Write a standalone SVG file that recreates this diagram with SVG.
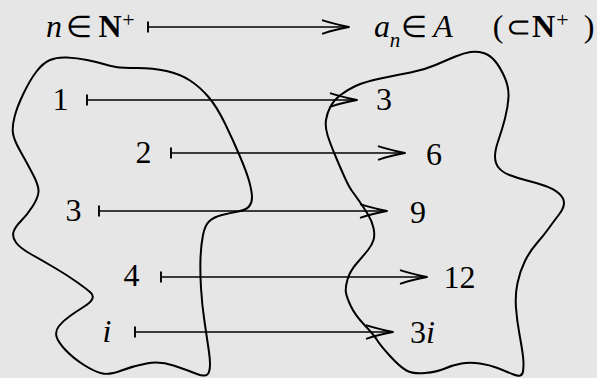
<svg xmlns="http://www.w3.org/2000/svg" width="597" height="378" viewBox="0 0 597 378">
<style>
.t{font-family:"Liberation Serif","Times New Roman",serif;font-size:32px;fill:#000;text-anchor:middle}
.i{font-style:italic}
.b{font-weight:bold}
.sup{font-size:22px}
.sub{font-size:21px}
.sym{font-size:30px}
.blob{fill:none;stroke:#000;stroke-width:2;stroke-linejoin:round}
.arr{fill:none;stroke:#000;stroke-width:1.7;marker-start:url(#tick);marker-end:url(#head)}
</style>
<defs>
<marker id="tick" markerUnits="userSpaceOnUse" markerWidth="4" markerHeight="14" refX="1" refY="7" orient="auto" overflow="visible">
<path d="M1,1.5V12.5" fill="none" stroke="#000" stroke-width="1.9"/>
</marker>
<marker id="head" markerUnits="userSpaceOnUse" markerWidth="30" markerHeight="16" refX="28" refY="8" orient="auto" overflow="visible">
<path d="M1,1.2Q16,6 28,8Q16,10 1,14.8" fill="none" stroke="#000" stroke-width="1.8" stroke-linejoin="round"/>
</marker>
</defs>
<rect width="597" height="378" fill="#e6e6e6"/>
<g id="domain-set">
<path class="blob" d="M36.5,71.5Q43,63 50,60Q57,57 67,57.5Q77,58 87,60Q97,62 103.5,64Q110,66 116,67Q122,68 137.5,68Q153,68 166.5,71Q180,74 190,80.5Q200,87 208.5,97Q217,107 225,123.5Q233,140 240,156.5Q247,173 249.5,182.5Q252,192 252,197.5Q252,203 249,206.5Q246,210 238,211.5Q230,213 222,215Q214,217 209.5,221Q205,225 203,235Q201,245 200.5,258Q200,271 201,288Q202,305 204.5,321.5Q207,338 209,352Q211,366 209,372Q207,378 197,374Q187,370 173.5,365.5Q160,361 146.5,363.5Q133,366 121.5,370.5Q110,375 102.5,373.5Q95,372 84,365Q73,358 65.5,350Q58,342 56.5,336.5Q55,331 59,326Q63,321 70,316Q77,311 83.5,307Q90,303 92,299.5Q94,296 91,293Q88,290 77.5,282.5Q67,275 55,268Q43,261 31.5,254.5Q20,248 16,242.5Q12,237 13.5,232Q15,227 21,221Q27,215 32.5,206.5Q38,198 38.5,192Q39,186 33,174.5Q27,163 20.5,151.5Q14,140 13,133.5Q12,127 14.5,117Q17,107 23.5,93.5Q30,80 36.5,71.5Z"/>
</g>
<g id="codomain-set">
<path class="blob" d="M470.5,52Q477,51 483.5,53Q490,55 495,61Q500,67 504.5,77Q509,87 508.5,97Q508,107 505,118.5Q502,130 498.5,140Q495,150 495,156.5Q495,163 498.5,167.5Q502,172 509.5,175Q517,178 527,180.5Q537,183 545.5,186Q554,189 559,193.5Q564,198 564,203Q564,208 559,214.5Q554,221 549,228Q544,235 537,243Q530,251 525,261Q520,271 517.5,283Q515,295 516,308Q517,321 519.5,334.5Q522,348 523,356.5Q524,365 523,371.5Q522,378 513.5,374.5Q505,371 497.5,368Q490,365 480,363.5Q470,362 461.5,363.5Q453,365 445,368.5Q437,372 425,373Q413,374 406.5,370.5Q400,367 390,356Q380,345 377,340Q374,335 364.5,325Q355,315 351,306.5Q347,298 346,293Q345,288 347.5,279.5Q350,271 357,263Q364,255 368,250Q372,245 373.5,240Q375,235 373.5,228Q372,221 368,214.5Q364,208 359.5,201.5Q355,195 352,191Q349,187 344.5,177Q340,167 335,155Q330,143 327.5,135Q325,127 326,120Q327,113 330.5,106.5Q334,100 340.5,95Q347,90 355.5,86Q364,82 380.5,78.5Q397,75 410.5,72.5Q424,70 435.5,65Q447,60 455.5,56.5Q464,53 470.5,52Z"/>
</g>
<g id="header-left">
<text class="t i" x="54" y="37">n</text>
<text class="t sym" x="79" y="37">∈</text>
<text class="t b" x="110" y="37">N</text>
<text class="t sup" x="128.5" y="27">+</text>
</g>
<g id="header-right">
<text class="t i" x="382" y="37">a</text>
<text class="t i sub" x="395" y="47">n</text>
<text class="t sym" x="414" y="37">∈</text>
<text class="t i" x="443" y="37">A</text>
<text class="t" x="498" y="37">(</text>
<text class="t sym" x="518.5" y="37">⊂</text>
<text class="t b" x="543.5" y="37">N</text>
<text class="t sup" x="562.5" y="27">+</text>
<text class="t" x="589" y="37">)</text>
</g>
<g id="n1"><text class="t" x="60.5" y="110">1</text></g>
<g id="n2"><text class="t" x="143.5" y="163">2</text></g>
<g id="n3"><text class="t" x="73.5" y="221">3</text></g>
<g id="n4"><text class="t" x="131.5" y="286">4</text></g>
<g id="ni"><text class="t i" x="107" y="342">i</text></g>
<g id="a1"><text class="t" x="384" y="110">3</text></g>
<g id="a2"><text class="t" x="434" y="165">6</text></g>
<g id="a3"><text class="t" x="418" y="223">9</text></g>
<g id="a4"><text class="t" x="459.5" y="288">12</text></g>
<g id="ai"><text class="t" x="422.5" y="343">3<tspan class="i">i</tspan></text></g>
<g id="connectors">
<path class="arr" d="M148,27H349"/>
<path class="arr" d="M87,100H357"/>
<path class="arr" d="M171,153H405"/>
<path class="arr" d="M99,211H387"/>
<path class="arr" d="M161,277H427"/>
<path class="arr" d="M135,332H393"/>
</g>
</svg>
